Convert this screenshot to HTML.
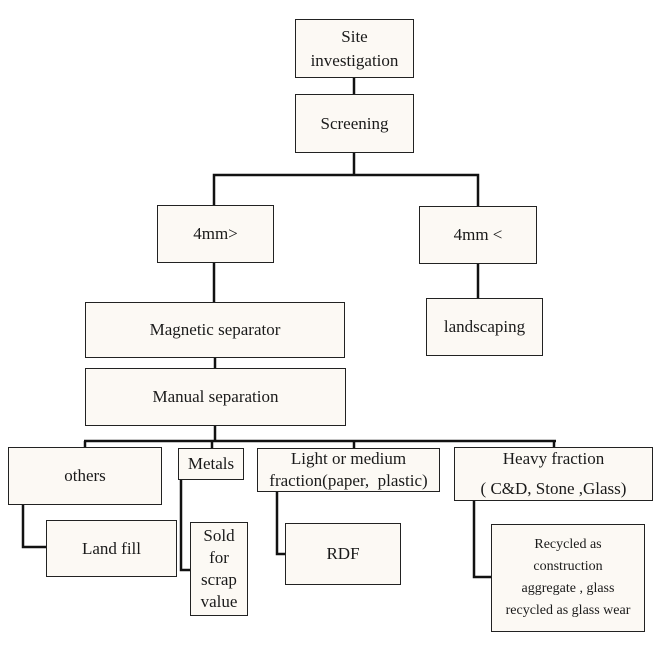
<!DOCTYPE html>
<html><head><meta charset="utf-8"><style>
body{margin:0;width:665px;height:650px;background:#fff;position:relative;overflow:hidden;font-family:"Liberation Serif",serif;color:#1a1a1a}
.b{position:absolute;box-sizing:border-box;border:1px solid #222;background:#fcf9f4;display:flex;align-items:center;justify-content:center;text-align:center;font-size:17px;line-height:24px}
svg{position:absolute;left:0;top:0}
</style></head><body>
<svg width="665" height="650"><g stroke="#111" stroke-width="2.5" fill="none">
<line x1="354" y1="78" x2="354" y2="94"/>
<line x1="354" y1="153" x2="354" y2="175"/>
<polyline points="214,206 214,175 478,175 478,206"/>
<line x1="214" y1="263" x2="214" y2="302"/>
<line x1="478" y1="264" x2="478" y2="298"/>
<line x1="215" y1="358" x2="215" y2="368"/>
<line x1="215" y1="426" x2="215" y2="441"/>
<line x1="84" y1="441" x2="556" y2="441"/>
<line x1="85" y1="441" x2="85" y2="447"/>
<line x1="212" y1="441" x2="212" y2="448"/>
<line x1="354" y1="441" x2="354" y2="448"/>
<line x1="554" y1="441" x2="554" y2="447"/>
<polyline points="23,505 23,547 46,547"/>
<polyline points="181,480 181,570 190,570"/>
<polyline points="277,492 277,554 285,554"/>
<polyline points="474,501 474,577 491,577"/>
</g></svg>
<div class="b" style="left:295px;top:19px;width:119px;height:59px">Site<br>investigation</div>
<div class="b" style="left:295px;top:94px;width:119px;height:59px">Screening</div>
<div class="b" style="left:157px;top:205px;width:117px;height:58px">4mm&gt;</div>
<div class="b" style="left:419px;top:206px;width:118px;height:58px">4mm &lt;</div>
<div class="b" style="left:426px;top:298px;width:117px;height:58px">landscaping</div>
<div class="b" style="left:85px;top:302px;width:260px;height:56px">Magnetic separator</div>
<div class="b" style="left:85px;top:368px;width:261px;height:58px">Manual separation</div>
<div class="b" style="left:8px;top:447px;width:154px;height:58px">others</div>
<div class="b" style="left:178px;top:448px;width:66px;height:32px">Metals</div>
<div class="b" style="left:257px;top:448px;width:183px;height:44px;line-height:22px">Light or medium<br>fraction(paper,&nbsp; plastic)</div>
<div class="b" style="left:454px;top:447px;width:199px;height:54px;line-height:30px">Heavy fraction<br>( C&amp;D, Stone ,Glass)</div>
<div class="b" style="left:46px;top:520px;width:131px;height:57px">Land fill</div>
<div class="b" style="left:190px;top:522px;width:58px;height:94px;line-height:22px">Sold<br>for<br>scrap<br>value</div>
<div class="b" style="left:285px;top:523px;width:116px;height:62px">RDF</div>
<div class="b" style="left:491px;top:524px;width:154px;height:108px;font-size:14px;line-height:22px">Recycled as<br>construction<br>aggregate , glass<br>recycled as glass wear</div>
</body></html>
